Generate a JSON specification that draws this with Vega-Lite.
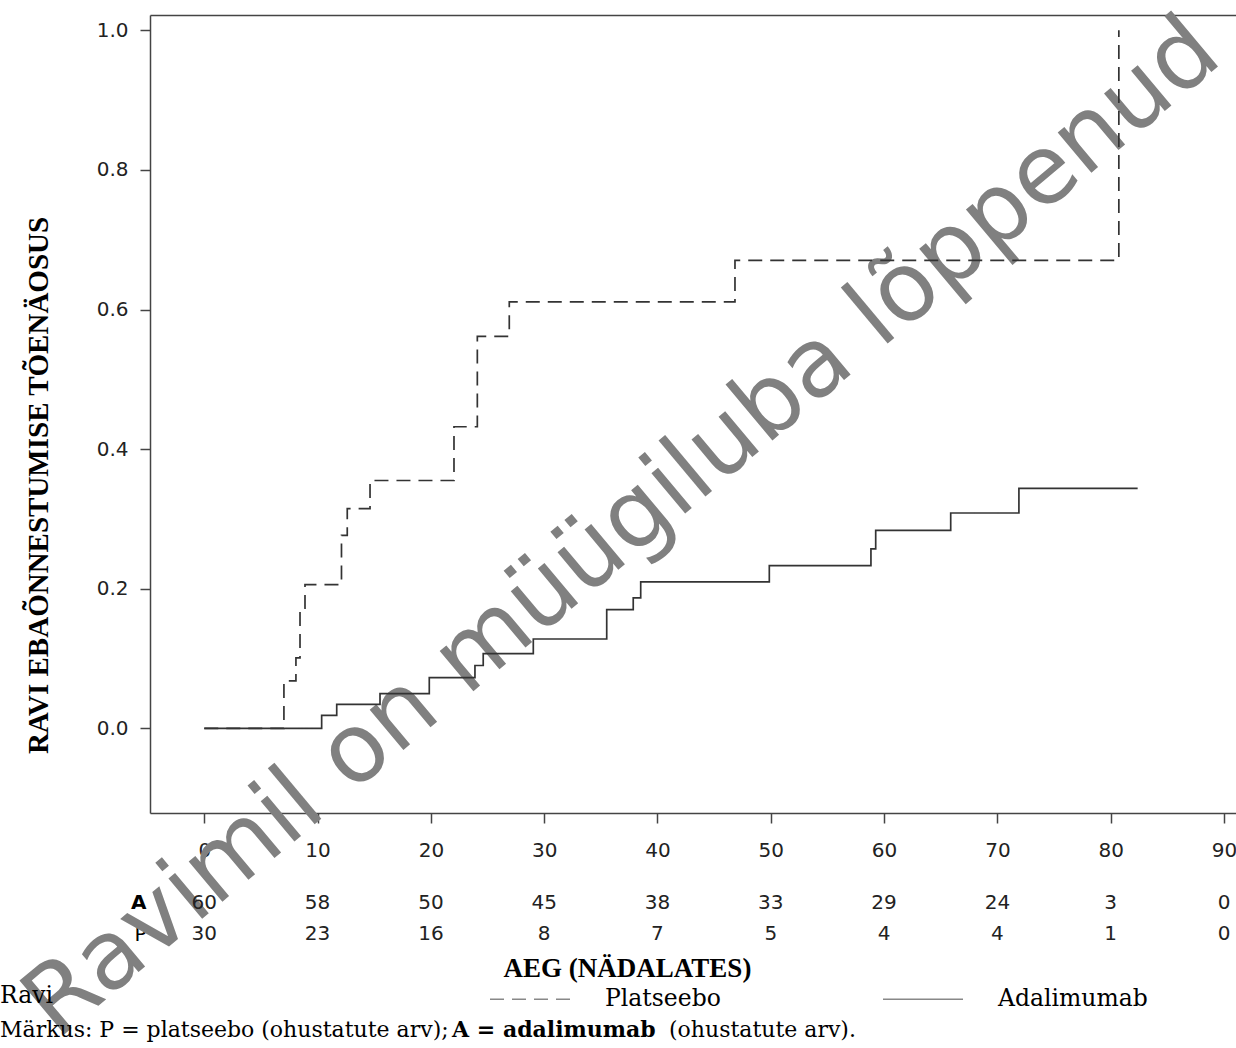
{
  "$schema": "https://vega.github.io/schema/vega-lite/v6.json",
  "width": 1086,
  "height": 798,
  "autosize": {"type": "none"},
  "padding": {"left": 150, "top": 15, "right": 0, "bottom": 235},
  "background": "white",
  "datasets": {
    "km": [
      {"series": "Platseebo", "week": 0, "p": 0},
      {"series": "Platseebo", "week": 7.03, "p": 0.068},
      {"series": "Platseebo", "week": 8.09, "p": 0.101},
      {"series": "Platseebo", "week": 8.45, "p": 0.172},
      {"series": "Platseebo", "week": 8.89, "p": 0.206},
      {"series": "Platseebo", "week": 12.11, "p": 0.2765},
      {"series": "Platseebo", "week": 12.62, "p": 0.3147},
      {"series": "Platseebo", "week": 14.63, "p": 0.355},
      {"series": "Platseebo", "week": 22.04, "p": 0.432},
      {"series": "Platseebo", "week": 24.1, "p": 0.5616},
      {"series": "Platseebo", "week": 26.92, "p": 0.611},
      {"series": "Platseebo", "week": 46.84, "p": 0.6705},
      {"series": "Platseebo", "week": 80.72, "p": 1.0},
      {"series": "Adalimumab", "week": 0, "p": 0},
      {"series": "Adalimumab", "week": 10.36, "p": 0.0186},
      {"series": "Adalimumab", "week": 11.69, "p": 0.0344},
      {"series": "Adalimumab", "week": 15.51, "p": 0.0497},
      {"series": "Adalimumab", "week": 19.86, "p": 0.0726},
      {"series": "Adalimumab", "week": 23.89, "p": 0.09},
      {"series": "Adalimumab", "week": 24.62, "p": 0.107},
      {"series": "Adalimumab", "week": 29.04, "p": 0.128},
      {"series": "Adalimumab", "week": 35.52, "p": 0.17},
      {"series": "Adalimumab", "week": 37.86, "p": 0.187},
      {"series": "Adalimumab", "week": 38.52, "p": 0.2097},
      {"series": "Adalimumab", "week": 49.87, "p": 0.233},
      {"series": "Adalimumab", "week": 58.84, "p": 0.257},
      {"series": "Adalimumab", "week": 59.26, "p": 0.2837},
      {"series": "Adalimumab", "week": 65.88, "p": 0.3085},
      {"series": "Adalimumab", "week": 71.9, "p": 0.3438},
      {"series": "Adalimumab", "week": 82.38, "p": 0.3438}
    ],
    "risk": [
      {"grp": "A", "week": 0, "n": 60}, {"grp": "A", "week": 10, "n": 58},
      {"grp": "A", "week": 20, "n": 50}, {"grp": "A", "week": 30, "n": 45},
      {"grp": "A", "week": 40, "n": 38}, {"grp": "A", "week": 50, "n": 33},
      {"grp": "A", "week": 60, "n": 29}, {"grp": "A", "week": 70, "n": 24},
      {"grp": "A", "week": 80, "n": 3}, {"grp": "A", "week": 90, "n": 0},
      {"grp": "P", "week": 0, "n": 30}, {"grp": "P", "week": 10, "n": 23},
      {"grp": "P", "week": 20, "n": 16}, {"grp": "P", "week": 30, "n": 8},
      {"grp": "P", "week": 40, "n": 7}, {"grp": "P", "week": 50, "n": 5},
      {"grp": "P", "week": 60, "n": 4}, {"grp": "P", "week": 70, "n": 4},
      {"grp": "P", "week": 80, "n": 1}, {"grp": "P", "week": 90, "n": 0}
    ],
    "wm": [{"label": "Ravimil on müügiluba lõppenud"}],
    "note1": [{"t": "Märkus: P = platseebo (ohustatute arv);"}],
    "note2": [{"t": "A = adalimumab"}],
    "note3": [{"t": "(ohustatute arv)."}]
  },
  "layer": [
    {
      "layer": [
        {
          "data": {"name": "wm"},
          "mark": {"type": "text", "font": "DejaVu Sans", "fontSize": 96, "fontWeight": "normal", "angle": -40, "align": "center", "baseline": "middle", "color": "#808080"},
          "encoding": {
            "x": {"datum": 36.9, "type": "quantitative"},
            "y": {"datum": 0.2865, "type": "quantitative"},
            "text": {"field": "label", "type": "nominal"}
          }
        },
        {
          "data": {"name": "km"},
          "mark": {"type": "line", "interpolate": "step-after", "strokeWidth": 1.7, "color": "#333"},
          "encoding": {
            "x": {
              "field": "week", "type": "quantitative",
              "scale": {"domain": [-4.79, 91.06], "nice": false, "zero": false},
              "axis": {
                "values": [0, 10, 20, 30, 40, 50, 60, 70, 80, 90],
                "domain": true, "domainColor": "#444", "domainWidth": 1.5,
                "tickSize": 10, "tickColor": "#444", "tickWidth": 1.5,
                "labelPadding": 27, "labelBaseline": "middle", "labelFont": "DejaVu Sans", "labelFontSize": 20, "labelColor": "#222",
                "labelFlush": false, "labelOverlap": false,
                "title": "AEG (NÄDALATES)", "titleFont": "Liberation Serif", "titleFontSize": 27, "titleFontWeight": "bold", "titleColor": "black",
                "titleX": 477, "titleY": 155, "titleAlign": "center", "titleBaseline": "middle"
              }
            },
            "y": {
              "field": "p", "type": "quantitative",
              "scale": {"domain": [-0.1213, 1.0219], "nice": false, "zero": false},
              "axis": {
                "values": [0, 0.2, 0.4, 0.6, 0.8, 1.0], "format": ".1f",
                "domain": true, "domainColor": "#444", "domainWidth": 1.5,
                "tickSize": 10, "tickColor": "#444", "tickWidth": 1.5,
                "labelPadding": 12, "labelBaseline": "middle", "labelFont": "DejaVu Sans", "labelFontSize": 20, "labelColor": "#222",
                "title": "RAVI EBAÕNNESTUMISE TÕENÄOSUS", "titleFont": "Liberation Serif", "titleFontSize": 29, "titleFontWeight": "bold", "titleColor": "black",
                "titleX": -112, "titleY": 470, "titleAngle": -90, "titleAlign": "center", "titleBaseline": "middle"
              }
            },
            "strokeDash": {
              "field": "series", "type": "nominal",
              "scale": {"domain": ["Platseebo", "Adalimumab"], "range": [[14, 8], [1, 0]]},
              "legend": {
                "orient": "none", "legendX": -150, "legendY": 943,
                "direction": "horizontal",
                "title": "Ravi", "titleOrient": "left", "titleFont": "DejaVu Serif", "titleFontSize": 23.5, "titleFontWeight": "normal", "titleColor": "black",
                "titlePadding": 435, "titleAnchor": "middle", "titleBaseline": "top",
                "labelFont": "DejaVu Serif", "labelFontSize": 23.5, "labelColor": "black", "labelOffset": 34,
                "symbolType": "stroke", "symbolSize": 6400, "symbolStrokeWidth": 1.5, "symbolStrokeColor": "#888",
                "columnPadding": 159
              }
            }
          }
        },
        {
          "data": {"name": "note1"},
          "mark": {"type": "text", "font": "DejaVu Serif", "fontSize": 22, "align": "left", "baseline": "middle", "color": "black"},
          "encoding": {
            "x": {"datum": -18.03, "type": "quantitative"},
            "y": {"datum": -0.4322, "type": "quantitative"},
            "text": {"field": "t", "type": "nominal"}
          }
        },
        {
          "data": {"name": "note2"},
          "mark": {"type": "text", "font": "DejaVu Serif", "fontSize": 22, "fontWeight": "bold", "align": "left", "baseline": "middle", "color": "black"},
          "encoding": {
            "x": {"datum": 21.87, "type": "quantitative"},
            "y": {"datum": -0.4322, "type": "quantitative"},
            "text": {"field": "t", "type": "nominal"}
          }
        },
        {
          "data": {"name": "note3"},
          "mark": {"type": "text", "font": "DejaVu Serif", "fontSize": 22, "align": "left", "baseline": "middle", "color": "black"},
          "encoding": {
            "x": {"datum": 41.02, "type": "quantitative"},
            "y": {"datum": -0.4322, "type": "quantitative"},
            "text": {"field": "t", "type": "nominal"}
          }
        }
      ]
    },
    {
      "data": {"name": "risk"},
      "mark": {"type": "text", "font": "DejaVu Sans", "fontSize": 20, "color": "#222", "align": "center", "baseline": "middle"},
      "encoding": {
        "x": {
          "field": "week", "type": "quantitative",
          "scale": {"domain": [-4.79, 91.06], "nice": false, "zero": false},
          "axis": {"orient": "top", "domain": true, "domainColor": "#444", "domainWidth": 1.5, "ticks": false, "labels": false, "title": null}
        },
        "y": {
          "field": "grp", "type": "nominal",
          "scale": {"type": "point", "domain": ["A", "P"], "range": [887.7, 919], "padding": 0},
          "axis": {
            "orient": "left", "ticks": false, "domain": false, "title": null,
            "labelPadding": 4, "labelBaseline": "middle", "labelFont": "DejaVu Sans", "labelFontSize": 20, "labelColor": "black",
            "labelFontWeight": {"condition": {"test": "datum.value === 'A'", "value": "bold"}, "value": "normal"}
          }
        },
        "text": {"field": "n", "type": "quantitative"}
      }
    }
  ],
  "resolve": {"scale": {"x": "independent", "y": "independent"}},
  "config": {
    "view": {"stroke": null},
    "axis": {"grid": false, "domain": false}
  }
}
